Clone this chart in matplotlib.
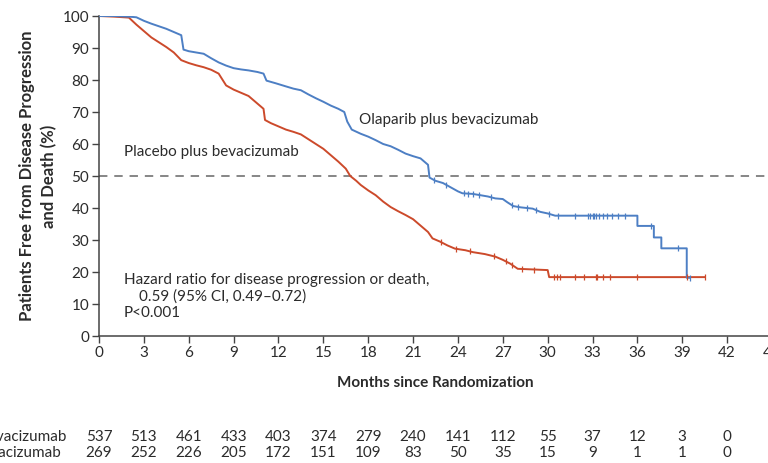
import numpy as np
import matplotlib
matplotlib.use("Agg")
import matplotlib.pyplot as plt
import matplotlib.transforms as mtransforms

plt.rcParams['font.family'] = ['Lato', 'DejaVu Sans']

# Kaplan-Meier curves (month, % free from progression)
# dense part is jagged (many small steps), tail keeps the explicit step corners
olap_t = [0, 1.0, 2.0, 2.5, 3.0, 3.5, 4.0, 4.5, 5.0, 5.5, 5.65, 6.0, 6.5, 7.0, 7.5,
          8.0, 8.5, 9.0, 9.5, 10.0, 10.6, 11.0, 11.2, 11.8, 12.5, 13.0, 13.5, 14.0,
          14.5, 15.0, 15.5, 16.0, 16.4, 16.6, 16.9, 17.5, 18.0, 18.5, 19.0, 19.5,
          20.0, 20.5, 21.0, 21.5, 22.0, 22.1, 22.5, 23.0, 23.5, 24.0, 24.3, 25.0,
          25.5, 26.0, 26.5, 27.0, 27.3, 27.7, 28.2, 29.0, 29.5, 30.0, 30.5, 36.0,
          36.0, 37.1, 37.1, 37.6, 37.6, 39.3, 39.3, 39.5]
olap_s = [100, 100, 99.8, 99.6, 98.5, 97.6, 96.8, 96.0, 95.0, 94.0, 89.5, 89.0,
          88.6, 88.2, 86.8, 85.5, 84.5, 83.7, 83.3, 83.0, 82.5, 82.0, 79.8, 79.0,
          78.0, 77.3, 76.8, 75.5, 74.3, 73.2, 72.0, 71.0, 70.0, 67.0, 64.5, 63.2,
          62.3, 61.2, 60.0, 59.3, 58.2, 57.0, 56.2, 55.5, 53.5, 49.5, 48.5, 47.8,
          46.5, 45.2, 44.6, 44.4, 44.0, 43.6, 43.0, 42.8, 41.8, 40.6, 40.2, 39.8,
          38.8, 38.3, 37.6, 37.6, 34.4, 34.4, 30.8, 30.8, 27.4, 27.4, 18.2, 18.2]
olap_cens = [22.4, 23.2, 24.4, 24.7, 25.0, 25.4, 26.2, 27.6, 28.0, 28.6, 29.2,
             30.1, 30.7, 31.8, 32.7, 32.8, 33.0, 33.1, 33.2, 33.4, 33.7, 34.0,
             34.3, 34.7, 35.2, 36.9, 38.7, 39.5]

plac_t = [0, 1.0, 2.0, 2.5, 3.0, 3.5, 4.0, 4.5, 5.0, 5.5, 6.0, 6.5, 7.0, 7.5, 8.0,
          8.5, 9.0, 9.5, 10.0, 10.5, 11.0, 11.1, 11.5, 12.0, 12.5, 13.0, 13.5, 14.0,
          14.5, 15.0, 15.5, 16.0, 16.5, 16.8, 17.2, 17.5, 18.0, 18.5, 19.0, 19.5,
          20.0, 20.5, 21.0, 21.5, 22.0, 22.3, 22.8, 23.3, 23.8, 24.5, 25.0, 25.8,
          26.5, 27.0, 27.5, 28.0, 29.0, 30.0, 30.1, 40.5]
plac_s = [100, 99.8, 99.5, 97.3, 95.3, 93.3, 91.8, 90.3, 88.6, 86.2, 85.3, 84.6,
          84.0, 83.2, 82.0, 78.3, 77.0, 76.0, 75.0, 73.0, 71.0, 67.5, 66.5, 65.5,
          64.5, 63.8, 63.0, 61.5, 60.0, 58.5, 56.5, 54.5, 52.3, 50.0, 48.5, 47.2,
          45.5, 44.0, 42.0, 40.3, 39.0, 37.8, 36.5, 34.5, 32.5, 30.5, 29.5, 28.3,
          27.3, 26.8, 26.2, 25.6, 24.8, 23.8, 22.6, 21.0, 20.8, 20.6, 18.4, 18.4]
plac_cens = [22.9, 23.9, 24.8, 26.4, 27.2, 27.6, 28.3, 29.1, 30.4, 30.6, 30.8,
             31.8, 32.4, 33.2, 33.3, 33.7, 34.2, 36.0, 39.3, 40.5]

# patients at risk
risk_months = list(range(0, 43, 3))
olap_risk = [537, 513, 461, 433, 403, 374, 279, 240, 141, 112, 55, 37, 12, 3, 0]
plac_risk = [269, 252, 226, 205, 172, 151, 109, 83, 50, 35, 15, 9, 1, 1, 0]

blue = '#4d7fc4'
red = '#cc4a2b'
txt = '#2b2b2b'
axc = '#444444'


def curve_value(t, s, x):
    # value on the curve at censoring time (last point if on a vertical drop)
    t = np.array(t)
    s = np.array(s)
    out = []
    for xi in x:
        idx = np.where(t <= xi)[0][-1]
        if idx + 1 < len(t) and t[idx + 1] > t[idx]:
            out.append(np.interp(xi, t[idx:idx + 2], s[idx:idx + 2]))
        else:
            out.append(s[idx])
    return out


fig = plt.figure(figsize=(7.68, 4.63), dpi=100)
ax = fig.add_axes([99 / 768, 127 / 463, 673 / 768, 320 / 463])

ax.axhline(50, color='#666666', lw=1.1, ls=(0, (5.5, 4.5)), zorder=1)

ax.plot(plac_t, plac_s, color=red, lw=1.4, zorder=3)
ax.plot(olap_t, olap_s, color=blue, lw=1.4, zorder=3)
ax.plot(plac_cens, curve_value(plac_t, plac_s, plac_cens), ls='none', marker='|',
        color=red, ms=5, mew=0.9, zorder=3)
ax.plot(olap_cens, curve_value(olap_t, olap_s, olap_cens), ls='none', marker='|',
        color=blue, ms=5, mew=0.9, zorder=3)

ax.set_xlim(0, 45)
ax.set_ylim(0, 100)
ax.set_xticks(np.arange(0, 46, 3))
ax.set_yticks(np.arange(0, 101, 10))
ax.spines['top'].set_visible(False)
ax.spines['right'].set_visible(False)
for sp in ['left', 'bottom']:
    ax.spines[sp].set_color(axc)
    ax.spines[sp].set_linewidth(1.1)
ax.tick_params(direction='out', length=5, width=1, colors=axc, labelcolor=txt,
               labelsize=11, pad=2)

ax.set_xlabel('Months since Randomization', fontsize=11, fontweight='bold',
              color=txt, labelpad=12)
ax.set_ylabel('Patients Free from Disease Progression\nand Death (%)', fontsize=12,
              fontweight='bold', color=txt, labelpad=4, linespacing=1.4)

ax.text(17.4, 67.5, 'Olaparib plus bevacizumab', fontsize=11, color=txt, va='center')
ax.text(1.67, 57.5, 'Placebo plus bevacizumab', fontsize=11, color=txt, va='center')
ax.text(1.67, 17.5, 'Hazard ratio for disease progression or death,', fontsize=11,
        color=txt, va='center')
ax.text(2.68, 12.2, '0.59 (95% CI, 0.49\u20130.72)', fontsize=11, color=txt, va='center')
ax.text(1.67, 7.2, 'P<0.001', fontsize=11, color=txt, va='center')

# number at risk table
trans = mtransforms.blended_transform_factory(ax.transData, fig.transFigure)
for m, a, b in zip(risk_months, olap_risk, plac_risk):
    ax.text(m, 26 / 463, str(a), transform=trans, ha='center', va='center',
            fontsize=11, color=txt, clip_on=False)
    ax.text(m, 10 / 463, str(b), transform=trans, ha='center', va='center',
            fontsize=11, color=txt, clip_on=False)
ax.text(66 / 768, 26 / 463, 'Olaparib plus bevacizumab', transform=fig.transFigure,
        ha='right', va='center', fontsize=11, color=txt)
ax.text(61 / 768, 10 / 463, 'Placebo plus bevacizumab', transform=fig.transFigure,
        ha='right', va='center', fontsize=11, color=txt)

fig.savefig('out.png', dpi=100)
